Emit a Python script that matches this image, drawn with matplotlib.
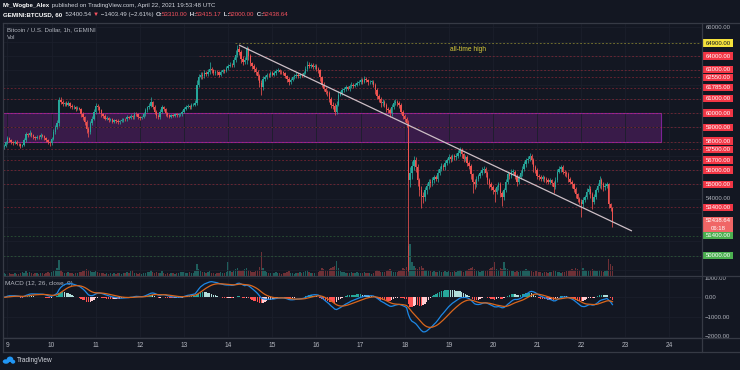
import numpy as np
import pandas as pd
import matplotlib
matplotlib.use("Agg")
import matplotlib.pyplot as plt
from matplotlib.transforms import blended_transform_factory, IdentityTransform
from matplotlib.lines import Line2D
from matplotlib.patches import Rectangle, Ellipse

plt.rcParams['font.family'] = ['Liberation Sans', 'DejaVu Sans']

# ---------------- data (hourly BTCUSD, GEMINI) ----------------
first_hour = -2            # hours relative to 9 Apr 00:00
first_open = 57600.0
closes = [
    57700, 57950,
    # Apr 9
    58230, 58100, 57950, 57900, 58000, 57850, 57800, 57700, 57750, 58100, 58500, 58450,
    58600, 58450, 58300, 58250, 58350, 58300, 58450, 58400, 58250, 58100, 57950, 57900,
    # Apr 10
    58200, 58700, 59000, 59300, 60900, 60800, 60650, 60700, 60600, 60700, 60500, 60400,
    60450, 60300, 60350, 60300, 59900, 59700, 59400, 58900, 58700, 59300, 59600, 60100,
    # Apr 11
    60500, 60400, 60200, 59900, 59800, 59600, 59650, 59500, 59550, 59400, 59500, 59450,
    59350, 59450, 59500, 59600, 59550, 59700, 59650, 59800, 59700, 59950, 59900, 59700,
    # Apr 12
    59650, 59700, 59900, 60200, 60400, 60500, 60750, 60450, 60100, 59800, 59700, 60100,
    60400, 60300, 60000, 59850, 59750, 59850, 59800, 59900, 59850, 59900, 59900, 60100,
    # Apr 13
    60300, 60450, 60500, 60400, 60550, 60600, 60700, 62000, 62500, 62700, 62600, 62800,
    62750, 62900, 63100, 63000, 62800, 62900, 62850, 62700, 62900, 63000, 62950, 63150,
    # Apr 14
    63300, 63400, 63350, 63700, 64100, 64500, 64300, 63800, 63600, 63700, 64500, 64000,
    63500, 63300, 63100, 62900, 62600, 62100, 61800, 62400, 62500, 62700, 62650, 62800,
    # Apr 15
    62700, 62800, 62950, 63000, 62900, 62850, 62800, 62600, 62400, 62200, 62350, 62500,
    62600, 62700, 62600, 62700, 62650, 62800, 63100, 63400, 63300, 63350, 63200, 63300,
    # Apr 16
    63100, 63000, 62500, 62000, 61700, 61500, 61400, 61000, 60600, 60500, 60100, 60600,
    61300, 61400, 61600, 61700, 61800, 61700, 61900, 62000, 61900, 62000, 62100, 62200,
    # Apr 17
    62300, 62200, 62400, 62300, 62150, 62200, 62200, 62000, 61600, 61200, 61000, 60700,
    60800, 60600, 60300, 60200, 60000, 60400, 60700, 60800, 60700, 60600, 60100, 59800,
    # Apr 18
    59600, 59300, 55300, 55800, 56300, 56700, 56200, 55300, 54600, 54200, 54100, 54600,
    54900, 55200, 55100, 55300, 55500, 55400, 55800, 56100, 56300, 56200, 56500, 56700,
    # Apr 19
    56900, 56800, 57000, 56900, 57000, 57200, 57400, 57100, 56800, 56900, 56500, 56300,
    55700, 55200, 55000, 55400, 55600, 55800, 56000, 56100, 55800, 55300, 55000, 54800,
    # Apr 20
    54600, 54500, 54800, 55000, 54400, 54100, 54600, 55200, 55700, 55600, 55900, 55900,
    55600, 55200, 55500, 55800, 56100, 56400, 56700, 56800, 57000, 56700, 56200, 56000,
    # Apr 21
    55600, 55500, 55400, 55500, 55400, 55300, 55200, 55300, 55100, 54800, 55300, 55900,
    56100, 56200, 55900, 55800, 55700, 55400, 55200, 55000, 54700, 54300, 54000, 53800,
    # Apr 22
    53600, 53900, 54100, 54500, 54700, 54300, 53800, 54100, 54600, 54900, 55300, 55000,
    54800, 54900, 55000, 53600, 53310, 52438.64,
]
# wick length above the body / below the body, in USD
wick_hi = [
    120, 90,
    150, 80, 100, 60, 120, 90, 70, 110, 80, 150, 200, 90, 180, 70, 110, 60, 130, 90, 120, 80, 70, 100, 90, 60,
    120, 180, 150, 200, 250, 200, 150, 90, 120, 160, 80, 110, 90, 70, 120, 100, 80, 150, 90, 110, 140, 160, 200, 180,
    220, 130, 90, 110, 80, 100, 120, 70, 90, 110, 80, 60, 100, 90, 120, 80, 70, 130, 90, 110, 80, 150, 100, 70,
    80, 110, 140, 160, 120, 180, 350, 120, 90, 100, 110, 150, 200, 90, 80, 70, 110, 90, 80, 100, 70, 90, 120, 110,
    130, 150, 120, 100, 140, 110, 200, 300, 250, 180, 150, 200, 130, 170, 500, 160, 120, 130, 90, 110, 140, 120, 100, 160,
    150, 180, 120, 250, 300, 300, 200, 150, 180, 220, 200, 150, 120, 90, 110, 100, 130, 150, 200, 180, 150, 120, 140, 130,
    120, 140, 110, 180, 90, 100, 130, 80, 100, 150, 120, 110, 130, 160, 90, 110, 130, 180, 200, 250, 180, 150, 130, 120,
    150, 120, 100, 130, 150, 120, 110, 140, 120, 150, 200, 250, 220, 150, 130, 120, 140, 110, 130, 150, 120, 110, 160, 140,
    150, 130, 200, 150, 120, 140, 110, 90, 120, 150, 130, 160, 200, 140, 120, 150, 180, 220, 250, 180, 150, 140, 130, 120,
    150, 120, 200, 400, 350, 300, 250, 200, 180, 300, 250, 200, 220, 180, 160, 200, 180, 150, 250, 200, 180, 150, 200, 180,
    200, 180, 150, 160, 200, 180, 250, 150, 130, 160, 140, 120, 150, 130, 180, 200, 160, 150, 200, 180, 130, 120, 150, 140,
    160, 130, 150, 180, 200, 150, 180, 200, 250, 180, 150, 160, 120, 140, 160, 180, 200, 220, 180, 160, 200, 150, 120, 130,
    150, 120, 130, 140, 110, 130, 120, 150, 100, 160, 200, 180, 200, 150, 130, 120, 110, 140, 120, 100, 130, 110, 120, 130,
    180, 200, 160, 220, 250, 180, 150, 200, 180, 200, 300, 180, 150, 200, 180, 120, 100, 105.17,
]
wick_lo = [
    100, 80,
    90, 120, 100, 150, 80, 110, 130, 180, 90, 70, 100, 120, 80, 150, 110, 130, 70, 100, 90, 110, 130, 120, 150, 180,
    130, 100, 150, 120, 200, 180, 150, 120, 140, 110, 150, 90, 130, 160, 100, 120, 200, 180, 250, 300, 350, 150, 120, 100,
    140, 160, 200, 180, 150, 120, 100, 150, 90, 130, 110, 150, 120, 90, 80, 100, 120, 90, 100, 80, 120, 90, 130, 150,
    110, 90, 80, 100, 120, 90, 110, 150, 200, 180, 130, 90, 100, 140, 200, 150, 120, 90, 110, 80, 100, 120, 90, 80,
    100, 120, 90, 150, 100, 80, 120, 150, 200, 130, 200, 110, 150, 120, 130, 200, 150, 120, 150, 200, 100, 110, 120, 90,
    120, 100, 150, 130, 100, 200, 250, 300, 200, 150, 250, 300, 200, 180, 200, 220, 250, 300, 500, 150, 120, 130, 150, 120,
    130, 110, 120, 100, 140, 120, 150, 130, 200, 220, 150, 120, 110, 130, 150, 110, 120, 100, 90, 120, 150, 130, 140, 120,
    150, 200, 250, 200, 180, 150, 200, 250, 220, 200, 250, 150, 130, 120, 140, 110, 130, 100, 120, 110, 130, 100, 120, 110,
    130, 150, 120, 140, 160, 130, 150, 200, 250, 200, 220, 250, 180, 200, 250, 220, 300, 180, 150, 160, 200, 250, 200, 250,
    200, 250, 6400, 500, 400, 300, 350, 400, 400, 850, 400, 250, 300, 200, 250, 220, 200, 180, 200, 150, 180, 160, 200, 150,
    180, 200, 150, 200, 180, 150, 200, 250, 200, 180, 220, 250, 300, 800, 300, 200, 180, 150, 160, 180, 250, 300, 250, 200,
    250, 700, 200, 180, 300, 600, 200, 150, 180, 200, 150, 180, 250, 300, 200, 150, 180, 160, 150, 200, 180, 250, 300, 200,
    250, 200, 180, 150, 200, 180, 160, 150, 200, 400, 150, 120, 130, 200, 150, 180, 200, 200, 180, 250, 200, 250, 200, 180,
    900, 200, 150, 120, 200, 250, 500, 200, 150, 120, 150, 300, 250, 200, 150, 250, 210, 438.64,
]
volumes = [
    3, 2,
    2, 3, 2, 2, 3, 2, 2, 3, 4, 3, 5, 3, 4, 3, 2, 3, 3, 2, 3, 3, 2, 3, 4, 3,
    4, 5, 6, 8, 16, 6, 4, 3, 3, 4, 3, 3, 2, 3, 3, 4, 4, 5, 6, 7, 6, 5, 4, 4,
    5, 4, 3, 3, 3, 2, 3, 2, 3, 2, 3, 2, 3, 3, 2, 3, 3, 4, 3, 5, 6, 3, 3, 2,
    3, 2, 3, 3, 4, 4, 6, 4, 3, 4, 3, 3, 5, 3, 2, 3, 2, 3, 3, 2, 3, 3, 4, 4,
    4, 3, 3, 4, 3, 3, 5, 12, 7, 5, 4, 4, 3, 4, 5, 3, 3, 2, 3, 3, 4, 3, 3, 4,
    14, 5, 4, 6, 7, 8, 6, 5, 6, 7, 8, 6, 5, 4, 4, 5, 6, 9, 24, 8, 5, 4, 3, 3,
    3, 3, 4, 3, 3, 2, 3, 3, 4, 5, 3, 3, 2, 3, 3, 4, 3, 4, 5, 6, 4, 3, 3, 3,
    3, 4, 5, 8, 7, 6, 5, 7, 8, 9, 10, 15, 8, 5, 4, 4, 3, 3, 3, 4, 3, 3, 4, 3,
    3, 3, 4, 3, 3, 3, 2, 3, 5, 6, 5, 4, 4, 4, 5, 6, 7, 5, 4, 4, 4, 5, 6, 8,
    7, 9, 30, 32, 14, 10, 8, 7, 9, 10, 8, 6, 6, 5, 5, 4, 5, 4, 4, 5, 4, 4, 5, 4,
    5, 4, 4, 5, 4, 5, 6, 5, 4, 5, 6, 7, 8, 9, 7, 5, 5, 4, 5, 6, 5, 6, 7, 8,
    9, 14, 7, 6, 8, 7, 14, 8, 7, 6, 5, 5, 4, 5, 4, 5, 5, 6, 7, 6, 5, 5, 4, 5,
    5, 4, 4, 3, 4, 4, 3, 4, 4, 6, 5, 4, 4, 3, 4, 4, 5, 5, 6, 7, 6, 8, 7, 6,
    14, 8, 6, 5, 5, 6, 7, 6, 5, 5, 6, 5, 4, 5, 6, 17, 12, 10,
]

day_numbers = list(range(9, 25))
day_labels = [str(d) for d in day_numbers]

level_prices = [64900, 64000, 63000, 62550, 61785, 61000, 60000, 59000, 58000,
                57500, 56700, 56000, 55000, 53400, 51400, 50000]
level_kinds = ['ath', 'res', 'res', 'res', 'res', 'res', 'res', 'res', 'res',
               'res', 'res', 'res', 'res', 'res', 'sup', 'sup']
level_start_hours = [123.7, 104.1, 104.1, 104.1, None, None, None, None, None,
                     None, None, None, None, None, None, None]
gray_price_ticks = [66000, 54000]
last_price = 52438.64
countdown = "06:18"

zone_low, zone_high = 57950, 60000
zone_end_hour = 355.4
trend_hours = [125.9, 339.6]
trend_prices = [64771, 51733]
ath_note = ("all-time high", 250.4, 64490)
macd_ticks = [1000, 0, -1000, -2000]

# ---------------- styling / layout ----------------
W, H = 740, 370
BG = '#131722'
UP, DN = '#26a69a', '#ef5350'
TXT = '#b2b5be'
WHITE = '#d1d4dc'
SEPC = '#363a45'
GRID = '#1b1f2b'

PX_DAY, X_DAY9 = 44.13, 7.5          # time-axis pixel scale
PRICE_PER_PX, P_REF, Y_REF = 70.1, 64000, 56.0
MACD_PER_PX, MACD_ZERO_Y = 1000 / 19.6, 297.3

L, R = 3, 701.5
TOP, SEP, TAX, BOT = 22.5, 275.5, 338, 352


def fx(px):
    return px / W


def fy(py):
    return 1 - py / H


def px_to_hour(px):
    return (px - X_DAY9) / PX_DAY * 24


def py_to_price(py):
    return P_REF - (py - Y_REF) * PRICE_PER_PX


fig = plt.figure(figsize=(W / 100, H / 100), dpi=100)
fig.patch.set_facecolor(BG)

rect_price = [fx(L), fy(SEP), (R - L) / W, (SEP - TOP) / H]
axv = fig.add_axes(rect_price, zorder=1)
ax = fig.add_axes(rect_price, zorder=2, sharex=axv)
axm = fig.add_axes([fx(L), fy(TAX), (R - L) / W, (TAX - SEP) / H], sharex=axv)
ax.patch.set_visible(False)
axv.set_facecolor(BG)
axm.set_facecolor(BG)

xlim = (px_to_hour(L), px_to_hour(R))
day_hours = [(d - 9) * 24 for d in day_numbers]

for a in (ax, axv, axm):
    for s in a.spines.values():
        s.set_visible(False)
    a.set_xlim(*xlim)

# ---------------- candles ----------------
c = np.array(closes, dtype=float)
hours = np.arange(first_hour, first_hour + len(c))
o = np.r_[first_open, c[:-1]]
hi = np.maximum(o, c) + np.array(wick_hi, dtype=float)
lo = np.minimum(o, c) - np.array(wick_lo, dtype=float)
is_up = c >= o
cols = np.where(is_up, UP, DN)

ax.set_ylim(py_to_price(SEP), py_to_price(TOP))
ax.vlines(hours, lo, hi, colors=cols, lw=0.55, zorder=4)
ax.bar(hours, np.maximum(np.abs(c - o), 25), bottom=np.minimum(o, c), width=0.75,
       color=cols, lw=0, zorder=5)

# grid
ax.set_xticks(day_hours)
ax.set_yticks(np.arange(49000, 66001, 1000))
ax.grid(True, color=GRID, lw=0.6, zorder=0)
ax.tick_params(length=0, labelbottom=False, labelleft=False)
axv.tick_params(length=0, labelbottom=False, labelleft=False)

# volume
vol_cols = np.where(is_up, '#1f5f5d', '#6e3036')
axv.bar(hours, volumes, width=0.75, color=vol_cols, lw=0)
axv.set_ylim(0, SEP - TOP)
axv.set_yticks([])

# zone
ax.add_patch(Rectangle((xlim[0], zone_low), zone_end_hour - xlim[0], zone_high - zone_low,
                       facecolor='#9c27b0', alpha=0.28, lw=0, zorder=1))
ax.add_patch(Rectangle((xlim[0], zone_low), zone_end_hour - xlim[0], zone_high - zone_low,
                       fill=False, edgecolor='#8e24aa', alpha=0.85, lw=0.8, zorder=2))

# horizontal levels
level_col = {'ath': ('#d4cc3a', 0.55), 'res': ('#f23645', 0.42), 'sup': ('#4caf50', 0.38)}
for p, k, s in zip(level_prices, level_kinds, level_start_hours):
    colr, al = level_col[k]
    ax.hlines(p, s if s is not None else xlim[0], xlim[1], colors=colr, alpha=al,
              linestyles=(0, (2.2, 2.2)), lw=0.6, zorder=3)

# trend line
ax.plot(trend_hours, trend_prices, color='#cdbfc6', lw=0.9, zorder=6, solid_capstyle='butt')
ax.text(ath_note[1], ath_note[2], ath_note[0], color='#d8cb3a', fontsize=4.8,
        ha='center', va='center', zorder=7)

# ---------------- right price labels (spread apart like the price scale does) ----------------
trans = blended_transform_factory(fig.transFigure, ax.transData)
LX0, LX1 = 703.3, 733.3
BOX_PX = 7.4
MIN_GAP_PX = 8.2
label_y = np.array([Y_REF + (P_REF - p) / PRICE_PER_PX for p in level_prices], dtype=float)
order = np.argsort(label_y)
for _ in range(30):
    for a_i, b_i in zip(order[:-1], order[1:]):
        gap = label_y[b_i] - label_y[a_i]
        if gap < MIN_GAP_PX:
            d = (MIN_GAP_PX - gap) / 2
            label_y[a_i] -= d
            label_y[b_i] += d

label_style = {'ath': ('#f5e23c', '#131722'), 'res': ('#f23645', 'white'), 'sup': ('#4caf50', 'white')}
for p, k, ypx in zip(level_prices, level_kinds, label_y):
    fc, tc = label_style[k]
    yc = py_to_price(ypx)
    ax.add_patch(Rectangle((fx(LX0), yc - BOX_PX * PRICE_PER_PX / 2), (LX1 - LX0) / W,
                           BOX_PX * PRICE_PER_PX, transform=trans,
                           facecolor=fc, lw=0, clip_on=False, zorder=10))
    ax.text(fx((LX0 + LX1) / 2), yc, f"{p:.2f}", transform=trans, ha='center', va='center',
            fontsize=4.3, color=tc, clip_on=False, zorder=11)
for p in gray_price_ticks:
    ax.text(fx((LX0 + LX1) / 2), p, f"{p:.2f}", transform=trans, ha='center', va='center',
            fontsize=4.3, color=TXT, clip_on=False, zorder=9)
# current price (two lines)
cp_top = last_price + 4.0 * PRICE_PER_PX
cp_h = 14.6 * PRICE_PER_PX
ax.add_patch(Rectangle((fx(LX0), cp_top - cp_h), (LX1 - LX0) / W, cp_h, transform=trans,
                       facecolor='#f06666', lw=0, clip_on=False, zorder=12))
ax.text(fx((LX0 + LX1) / 2), last_price, f"{last_price:.2f}", transform=trans, ha='center',
        va='center', fontsize=4.3, color='white', clip_on=False, zorder=13)
ax.text(fx((LX0 + LX1) / 2), last_price - 7.2 * PRICE_PER_PX, countdown, transform=trans,
        ha='center', va='center', fontsize=4.3, color='white', clip_on=False, zorder=13)

# ---------------- MACD ----------------
s = pd.Series(c)
macd = s.ewm(span=12, adjust=False).mean() - s.ewm(span=26, adjust=False).mean()
signal = macd.ewm(span=9, adjust=False).mean()
hist = (macd - signal).to_numpy()
prev = np.r_[0.0, hist[:-1]]
hcols = np.where(hist >= 0, np.where(hist > prev, '#26a69a', '#b2dfdb'),
                 np.where(hist < prev, '#ff5252', '#ffcdd2'))
axm.set_ylim(-(TAX - MACD_ZERO_Y) * MACD_PER_PX, (MACD_ZERO_Y - SEP) * MACD_PER_PX)
axm.bar(hours, hist, width=0.75, color=hcols, lw=0, zorder=3)
axm.plot(hours, macd, color='#1e88e5', lw=0.9, zorder=4)
axm.plot(hours, signal, color='#d9661c', lw=0.9, zorder=5)
axm.set_xticks(day_hours)
axm.set_xticklabels(day_labels)
axm.set_yticks(macd_ticks)
axm.set_yticklabels(['1000.00', '0.00', '\u22121000.00', '\u22122000.00'])
axm.yaxis.tick_right()
axm.tick_params(axis='x', length=0, pad=3.2, labelsize=4.8, labelcolor=TXT)
axm.tick_params(axis='y', length=0, pad=2.0, labelsize=4.3, labelcolor=TXT)
axm.grid(True, color=GRID, lw=0.6, zorder=0)
axm.text(0.003, 0.88, "MACD (12, 26, close, 9)", transform=axm.transAxes, fontsize=4.6,
         color=TXT, va='center', ha='left')

# ---------------- frame lines ----------------
for (x0, y0, x1, y1) in [(L, TOP, W, TOP), (L, SEP, W, SEP), (L, TAX, W, TAX), (L, BOT, W, BOT),
                         (L, TOP, L, BOT), (R, TOP, R, BOT)]:
    fig.add_artist(Line2D([fx(x0), fx(x1)], [fy(y0), fy(y1)], transform=fig.transFigure,
                          color=SEPC, lw=0.9, zorder=20))

# ---------------- header texts ----------------
renderer = fig.canvas.get_renderer()


def draw_segments(x_px, y_px, segs, size):
    x = x_px
    for txt, colr, weight in segs:
        t = fig.text(fx(x), fy(y_px), txt, color=colr, fontsize=size, fontweight=weight,
                     ha='left', va='center')
        x += t.get_window_extent(renderer).width


RED = '#f7525f'
draw_segments(3, 6, [("Mr_Wogbe_Alex", 'white', 'bold'),
                     (" published on TradingView.com, April 22, 2021 19:53:48 UTC", WHITE, 'normal')], 4.4)
draw_segments(3, 14.7, [("GEMINI:BTCUSD, 60", 'white', 'bold'), ("  52400.54 ", WHITE, 'normal'),
                        ("\u25bc", RED, 'normal'), (" \u22121403.49 (\u22122.61%) ", WHITE, 'normal'),
                        ("O:", WHITE, 'bold'), ("53310.00", RED, 'normal'),
                        (" H:", WHITE, 'bold'), ("53415.17", RED, 'normal'),
                        (" L:", WHITE, 'bold'), ("52000.00", RED, 'normal'),
                        (" C:", WHITE, 'bold'), ("52438.64", RED, 'normal')], 4.4)
fig.text(fx(7.3), fy(29.3), "Bitcoin / U.S. Dollar, 1h, GEMINI", color=TXT, fontsize=4.4,
         ha='left', va='center')
fig.text(fx(7.3), fy(37.3), "Vol", color=TXT, fontsize=4.4, ha='left', va='center')

# TradingView logo
for (cx, cy, w, h) in [(6.0, 361.5, 6.5, 4.5), (10.0, 359.3, 6.5, 5.5), (13.0, 361.7, 4.5, 4.0)]:
    fig.add_artist(Ellipse((cx, H - cy), w, h, transform=IdentityTransform(),
                           facecolor='#2196f3', lw=0))
fig.text(fx(17.3), fy(360.5), "TradingView", color=WHITE, fontsize=4.7, ha='left', va='center')

fig.savefig("out.png", dpi=100, facecolor=BG)
